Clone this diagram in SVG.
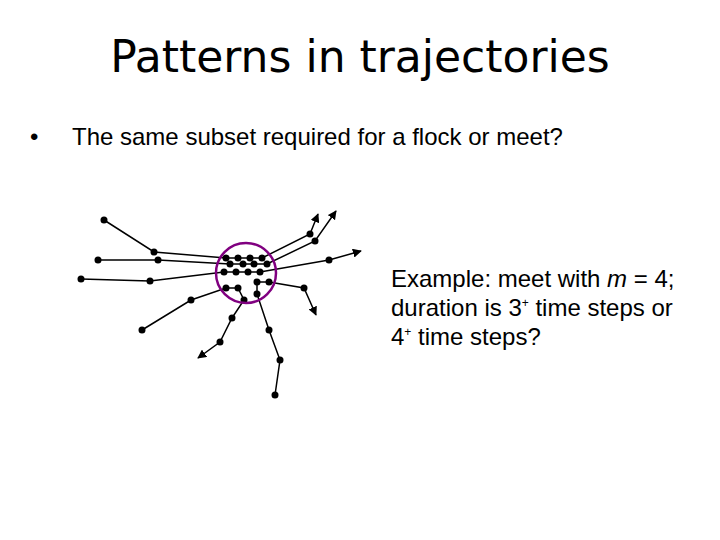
<svg xmlns="http://www.w3.org/2000/svg" width="720" height="540" viewBox="0 0 720 540">
<style>
.t{font-family:"Liberation Sans",Arial,sans-serif;font-size:24px;fill:#000}
.p{fill:none;stroke:#000;stroke-width:1.5}
.d{fill:#000}
</style>
<defs><marker id="a" viewBox="0 0 10 10" refX="9" refY="5" markerWidth="9" markerHeight="9" markerUnits="userSpaceOnUse" orient="auto"><path d="M0,0L10,5L0,10z" fill="#000"/></marker></defs>
<rect width="720" height="540" fill="#fff"/>
<text x="360" y="72" text-anchor="middle" style="font-family:'DejaVu Sans',Verdana,sans-serif;font-size:44px">Patterns in trajectories</text>
<text x="30" y="145" class="t">•</text>
<text x="72" y="145" class="t">The same subset required for a flock or meet?</text>
<g id="connectors">
<polyline class="p" marker-end="url(#a)" points="104,220 154,252 226,258 238,258 250,258 262,258 310,234 318,214"/>
<polyline class="p" marker-end="url(#a)" points="98,260 158,260 230,264 243,264 254,264 267,264 315,241 336,211"/>
<polyline class="p" marker-end="url(#a)" points="81,279 150,281 224,272 236,272 248,272 260,272 329,260 361,251"/>
<polyline class="p" marker-end="url(#a)" points="142,330 191,300 226,288 238,288 244,300 232,318 220,342 198,358"/>
<polyline class="p" marker-end="url(#a)" points="275,395 280,360 269,330 257,294 257,282 269,282 304,288 316,315"/>
</g>
<g id="points" class="d">
<circle cx="104" cy="220" r="3.5"/><circle cx="154" cy="252" r="3.5"/><circle cx="226" cy="258" r="3.5"/><circle cx="238" cy="258" r="3.5"/><circle cx="250" cy="258" r="3.5"/><circle cx="262" cy="258" r="3.5"/><circle cx="310" cy="234" r="3.5"/>
<circle cx="98" cy="260" r="3.5"/><circle cx="158" cy="260" r="3.5"/><circle cx="230" cy="264" r="3.5"/><circle cx="243" cy="264" r="3.5"/><circle cx="254" cy="264" r="3.5"/><circle cx="267" cy="264" r="3.5"/><circle cx="315" cy="241" r="3.5"/>
<circle cx="81" cy="279" r="3.5"/><circle cx="150" cy="281" r="3.5"/><circle cx="224" cy="272" r="3.5"/><circle cx="236" cy="272" r="3.5"/><circle cx="248" cy="272" r="3.5"/><circle cx="260" cy="272" r="3.5"/><circle cx="329" cy="260" r="3.5"/>
<circle cx="142" cy="330" r="3.5"/><circle cx="191" cy="300" r="3.5"/><circle cx="226" cy="288" r="3.5"/><circle cx="238" cy="288" r="3.5"/><circle cx="244" cy="300" r="3.5"/><circle cx="232" cy="318" r="3.5"/><circle cx="220" cy="342" r="3.5"/>
<circle cx="275" cy="395" r="3.5"/><circle cx="280" cy="360" r="3.5"/><circle cx="269" cy="330" r="3.5"/><circle cx="257" cy="294" r="3.5"/><circle cx="257" cy="282" r="3.5"/><circle cx="269" cy="282" r="3.5"/><circle cx="304" cy="288" r="3.5"/>
</g>
<g id="meet"><circle cx="246" cy="273" r="30" fill="none" stroke="#800080" stroke-width="2.5"/></g>
<g id="example" class="t">
<text x="391" y="287">Example: meet with <tspan font-style="italic">m</tspan> = 4;</text>
<text x="391" y="316">duration is 3<tspan font-size="12" dy="-9">+</tspan><tspan dy="9"> time steps or</tspan></text>
<text x="391" y="345">4<tspan font-size="12" dy="-9">+</tspan><tspan dy="9"> time steps?</tspan></text>
</g>
</svg>
